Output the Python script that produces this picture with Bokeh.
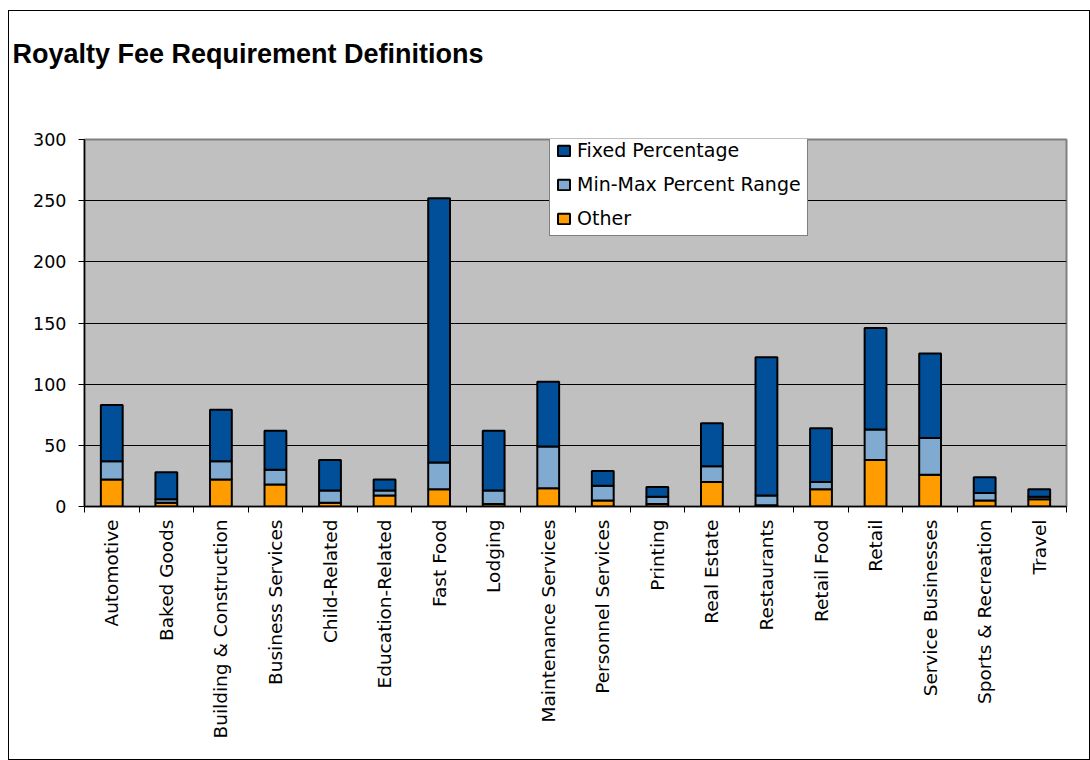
import math
from bokeh.plotting import figure
from bokeh.models import Range1d, FixedTicker, Legend, LegendItem, Title
from bokeh.embed import file_html
from bokeh.resources import INLINE

categories = ["Automotive", "Baked Goods", "Building & Construction", "Business Services",
              "Child-Related", "Education-Related", "Fast Food", "Lodging",
              "Maintenance Services", "Personnel Services", "Printing", "Real Estate",
              "Restaurants", "Retail Food", "Retail", "Service Businesses",
              "Sports & Recreation", "Travel"]
other = [22, 3, 22, 18, 3, 9, 14, 2, 15, 5, 2, 20, 1, 14, 38, 26, 5, 6]
minmax = [15, 3, 15, 12, 10, 4, 22, 11, 34, 12, 6, 13, 8, 6, 25, 30, 6, 2]
fixed = [46, 22, 42, 32, 25, 9, 216, 49, 53, 12, 8, 35, 113, 44, 83, 69, 13, 6]
y_ticks = [0, 50, 100, 150, 200, 250, 300]

series_names = ["Other", "Min-Max Percent Range", "Fixed Percentage"]
colors = ["#FF9C00", "#80AACF", "#004F98"]

xs = [i + 0.5 for i in range(len(categories))]
data = {"x": xs, "Other": other, "Min-Max Percent Range": minmax, "Fixed Percentage": fixed}

FONT = "DejaVu Sans"

p = figure(width=1082, height=750, output_backend="svg", toolbar_location=None,
           x_range=Range1d(0, len(categories)), y_range=Range1d(0, 300),
           min_border_left=75, min_border_right=25, min_border_top=128, min_border_bottom=255)

renderers = p.vbar_stack(series_names, x="x", width=0.4, source=data,
                         fill_color=colors, line_color="black", line_width=2)

p.background_fill_color = "#C0C0C0"
p.border_fill_color = "white"
p.outline_line_color = "#808080"
p.outline_line_width = 2

# title: a blank spacer panel next to the frame, the real title above it
main_title = Title(text="Royalty Fee Requirement Definitions",
                   text_font="Liberation Sans", text_font_style="bold",
                   text_font_size="27px", text_color="black",
                   align="left", offset=-72, standoff=0)
spacer = Title(text=" ", text_font="Liberation Sans", text_font_size="27px",
               align="left", standoff=39)
p.title = None
p.above = [spacer, main_title]

# grid
p.xgrid.grid_line_color = None
p.ygrid.grid_line_color = "black"
p.ygrid.grid_line_width = 1
p.ygrid.ticker = FixedTicker(ticks=y_ticks)

# y axis
p.yaxis.ticker = FixedTicker(ticks=y_ticks)
p.yaxis.axis_line_color = "black"
p.yaxis.axis_line_width = 1.5
p.yaxis.major_tick_line_color = "black"
p.yaxis.major_tick_out = 6
p.yaxis.major_tick_in = 0
p.yaxis.minor_tick_line_color = None
p.yaxis.major_label_text_font = FONT
p.yaxis.major_label_text_font_size = "17.5px"
p.yaxis.major_label_text_color = "black"
p.yaxis.major_label_standoff = 12

# x axis: labels at centres, ticks at category boundaries
p.xaxis.ticker = FixedTicker(ticks=xs, minor_ticks=list(range(len(categories) + 1)))
p.xaxis.major_label_overrides = {x: c for x, c in zip(xs, categories)}
p.xaxis.major_label_orientation = math.pi / 2
p.xaxis.axis_line_color = "black"
p.xaxis.axis_line_width = 1.5
p.xaxis.major_tick_line_color = None
p.xaxis.major_tick_out = 0
p.xaxis.major_tick_in = 0
p.xaxis.minor_tick_line_color = "black"
p.xaxis.minor_tick_out = 6
p.xaxis.minor_tick_in = 0
p.xaxis.major_label_text_font = FONT
p.xaxis.major_label_text_font_size = "18.5px"
p.xaxis.major_label_text_color = "black"
p.xaxis.major_label_standoff = 7

# legend (top series first)
items = [LegendItem(label=series_names[i], renderers=[renderers[i]]) for i in (2, 1, 0)]
legend = Legend(items=items, location=(465, 270), orientation="vertical",
                background_fill_color="white", background_fill_alpha=1.0,
                border_line_color="black", border_line_width=1,
                label_text_font=FONT, label_text_font_size="19px", label_text_color="black",
                glyph_width=15, glyph_height=13, label_height=20, label_standoff=6,
                spacing=12, padding=6, margin=0)
p.add_layout(legend, "center")

p.styles = {"border": "1px solid black", "margin-left": "8px", "margin-top": "10px"}

open("out.html", "w").write(file_html(p, INLINE))
